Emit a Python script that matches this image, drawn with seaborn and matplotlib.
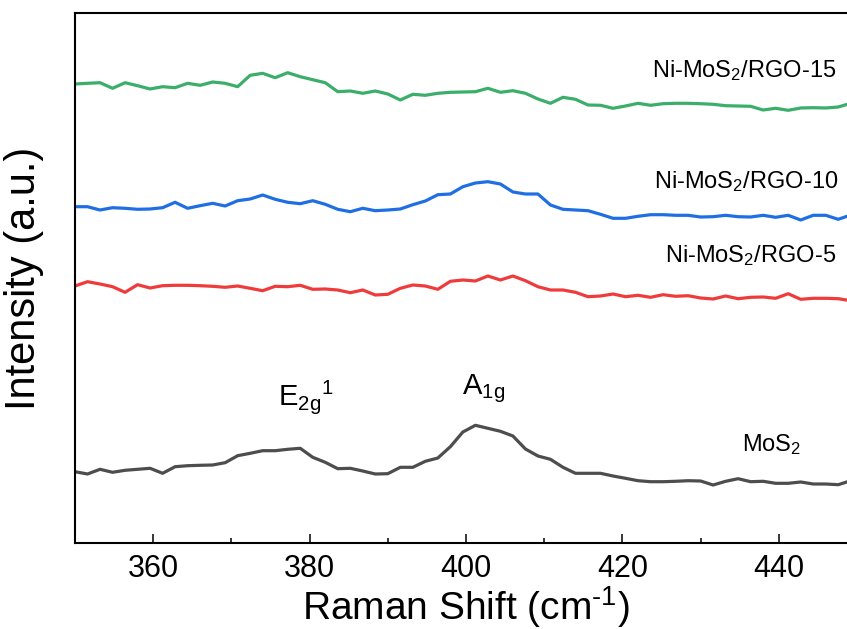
import pandas as pd
import matplotlib
matplotlib.use("Agg")
import matplotlib.pyplot as plt
import seaborn as sns
from matplotlib.ticker import MultipleLocator

# Raman shift grid (cm-1)
shift = [350.0, 351.6, 353.2, 354.8, 356.4, 358.0, 359.6, 361.2, 362.8, 364.4,
         366.0, 367.6, 369.2, 370.8, 372.4, 374.0, 375.6, 377.2, 378.8, 380.4,
         382.0, 383.6, 385.2, 386.8, 388.4, 390.0, 391.6, 393.2, 394.8, 396.4,
         398.0, 399.6, 401.2, 402.8, 404.4, 406.0, 407.6, 409.2, 410.8, 412.4,
         414.0, 415.6, 417.2, 418.8, 420.4, 422.0, 423.6, 425.2, 426.8, 428.4,
         430.0, 431.6, 433.2, 434.8, 436.4, 438.0, 439.6, 441.2, 442.8, 444.4,
         446.0, 447.6, 449.2]

# stacked spectra (a.u., offsets already included)
mos2 = [71.3, 69.0, 73.7, 70.7, 72.7, 73.7, 74.7, 69.7, 76.3, 77.3,
        77.7, 78.0, 80.3, 87.3, 89.7, 92.3, 92.3, 93.7, 94.7, 85.7,
        80.7, 74.3, 74.7, 72.0, 69.0, 69.3, 75.7, 75.7, 81.7, 85.0,
        96.3, 111.0, 117.7, 114.7, 111.7, 107.0, 94.0, 87.0, 83.7, 75.7,
        69.7, 69.7, 69.7, 67.0, 64.7, 62.3, 61.3, 61.3, 61.7, 62.3,
        62.0, 58.0, 61.7, 64.3, 61.3, 61.7, 59.7, 59.7, 61.0, 59.0,
        59.0, 58.3, 62.3]
rgo5 = [257.0, 261.3, 259.0, 256.3, 250.7, 258.3, 255.0, 257.3, 257.7, 257.7,
        257.3, 256.7, 255.7, 257.0, 254.7, 252.3, 256.7, 256.3, 257.7, 253.7,
        254.0, 253.0, 250.3, 253.0, 248.0, 248.7, 254.7, 258.0, 257.0, 253.7,
        261.7, 263.0, 262.0, 267.0, 263.0, 267.0, 262.3, 256.3, 253.0, 253.0,
        250.7, 246.3, 247.0, 249.0, 246.3, 247.7, 245.7, 248.3, 246.7, 247.3,
        245.0, 244.0, 247.0, 244.3, 245.7, 246.0, 244.7, 249.3, 243.7, 244.7,
        244.7, 244.3, 242.3]
rgo10 = [336.3, 336.3, 333.0, 335.3, 334.7, 333.7, 334.0, 335.3, 340.7, 334.7,
         337.3, 339.7, 337.0, 342.3, 344.0, 348.0, 343.7, 340.7, 339.3, 342.3,
         338.7, 333.7, 331.3, 334.7, 332.3, 333.0, 334.0, 338.3, 342.0, 348.3,
         349.0, 356.3, 360.0, 361.3, 359.0, 351.0, 349.0, 349.0, 338.0, 333.7,
         333.0, 332.3, 328.7, 324.7, 324.7, 326.7, 328.3, 328.3, 327.7, 327.7,
         326.0, 326.3, 327.7, 326.3, 326.0, 327.7, 325.7, 327.7, 323.0, 327.7,
         327.7, 323.7, 328.0]
rgo15 = [459.0, 459.7, 460.3, 454.7, 460.3, 457.3, 454.0, 456.3, 455.3, 459.7,
         457.7, 461.0, 459.7, 456.3, 467.7, 469.7, 465.3, 470.3, 466.3, 463.3,
         460.3, 451.3, 452.0, 449.7, 452.0, 449.0, 443.0, 448.7, 447.7, 449.7,
         450.7, 451.0, 451.3, 454.7, 450.7, 452.3, 449.7, 444.0, 439.7, 445.7,
         443.7, 438.0, 437.7, 434.7, 437.0, 439.7, 437.7, 439.3, 439.7, 439.7,
         439.3, 438.7, 437.3, 437.0, 436.7, 433.0, 434.7, 432.7, 435.0, 435.3,
         435.0, 436.0, 439.7]

samples = ["MoS2", "Ni-MoS2/RGO-5", "Ni-MoS2/RGO-10", "Ni-MoS2/RGO-15"]
colors = ["#4d4d4d", "#ef3b3b", "#1f6fe3", "#3aae6a"]

df = pd.concat([
    pd.DataFrame({"shift": shift, "intensity": vals, "sample": name})
    for name, vals in zip(samples, [mos2, rgo5, rgo10, rgo15])
])

sns.set_theme(style="ticks")
plt.rcParams["font.family"] = ["Liberation Sans", "DejaVu Sans"]
plt.rcParams["mathtext.fontset"] = "custom"
plt.rcParams["mathtext.rm"] = "Liberation Sans"
plt.rcParams["mathtext.it"] = "Liberation Sans:italic"
plt.rcParams["mathtext.default"] = "regular"
plt.rcParams["text.color"] = "black"
plt.rcParams["axes.labelcolor"] = "black"
plt.rcParams["xtick.color"] = "black"
plt.rcParams["xtick.labelcolor"] = "black"

fig = plt.figure(figsize=(8.47, 6.29), dpi=100)
ax = fig.add_axes([75 / 847, 86 / 629, 782 / 847, 530 / 629])

sns.lineplot(data=df, x="shift", y="intensity", hue="sample",
             palette=colors, hue_order=samples, linewidth=2.3,
             sort=False, legend=False, ax=ax)

ax.set_xlim(350, 450)
ax.set_ylim(0, 530)
ax.xaxis.set_major_locator(MultipleLocator(20))
ax.xaxis.set_minor_locator(MultipleLocator(10))
ax.tick_params(axis="x", which="major", direction="in", length=6.5,
               width=1.1, labelsize=22, pad=8, color="black", labelcolor="black")
ax.tick_params(axis="x", which="minor", direction="in", length=3.5,
               width=1.1, color="black")
ax.set_yticks([])
for s in ax.spines.values():
    s.set_linewidth(1.5)
    s.set_color("black")

ax.set_xlabel(r"Raman Shift (cm$^{\text{-}1}$)", fontsize=28, labelpad=0,
              color="black")
ax.set_ylabel("Intensity (a.u.)", fontsize=30, labelpad=22, color="black")

# sample labels
ax.text(447.4, 466, "Ni-MoS$_2$/RGO-15", fontsize=17, ha="right", va="baseline")
ax.text(447.6, 355, "Ni-MoS$_2$/RGO-10", fontsize=17, ha="right", va="baseline")
ax.text(447.4, 281, "Ni-MoS$_2$/RGO-5", fontsize=17, ha="right", va="baseline")
ax.text(435.3, 92, "MoS$_2$", fontsize=17, ha="left", va="baseline")

# peak labels
ax.text(376.0, 138, "E$_{2g}$$^{1}$", fontsize=21, ha="left", va="baseline")
ax.text(399.5, 149, "A$_{1g}$", fontsize=21, ha="left", va="baseline")

fig.savefig("out.png", dpi=100)
